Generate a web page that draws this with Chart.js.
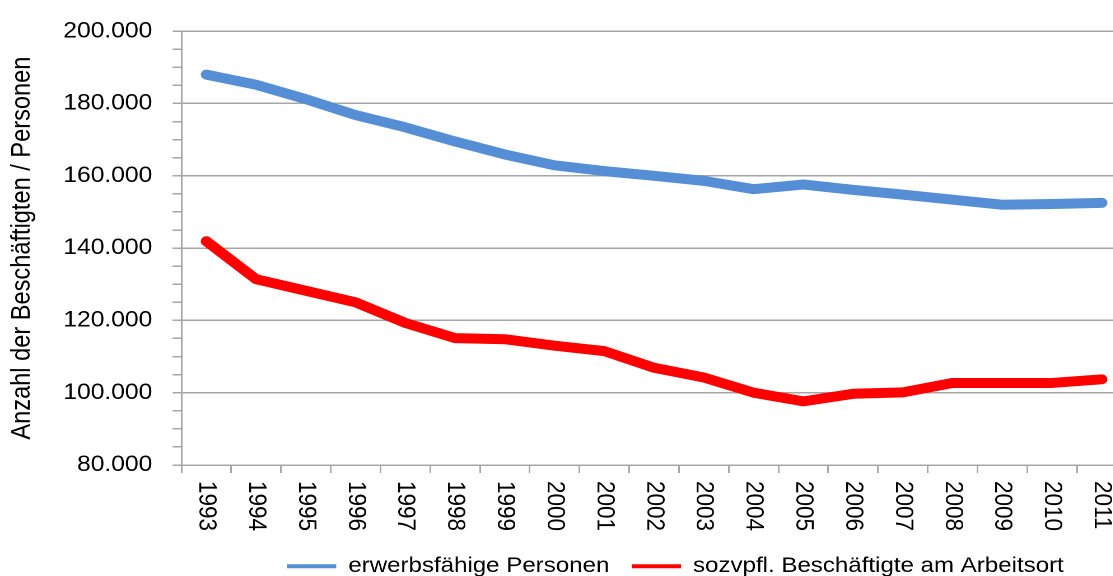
<!DOCTYPE html>
<html><head><meta charset="utf-8">
<script src="https://cdn.jsdelivr.net/npm/chart.js@4.4.1/dist/chart.umd.min.js"></script>
<style>
html,body{margin:0;padding:0;overflow:hidden;background:#fff;width:1113px;height:576px;}
#wrap{position:absolute;left:0;top:0;transform:scaleX(1.12);transform-origin:0 0;}
canvas{display:block;}
</style></head><body>
<div id="wrap"><canvas id="c" width="1006" height="587"></canvas></div>
<script>
const years = ['1993','1994','1995','1996','1997','1998','1999','2000','2001','2002','2003','2004','2005','2006','2007','2008','2009','2010','2011'];
const erwerbsfaehige = [188000,185200,181200,176800,173400,169500,165900,162900,161300,160000,158600,156300,157600,156100,154800,153400,152000,152200,152500];
const sozvpfl = [141900,131400,128200,125000,119300,115100,114800,113000,111500,106900,104200,100000,97600,99700,100100,102700,102700,102700,103700];
const seriesNames = ['erwerbsfähige Personen','sozvpfl. Beschäftigte am Arbeitsort'];
const axisTitle = 'Anzahl der Beschäftigten / Personen';
const yMin = 80000, yMax = 200000, yMajor = 20000, yMinor = 5000;

const FONT = "'Liberation Sans', Arial, sans-serif";
Chart.defaults.font.family = FONT;
Chart.defaults.color = '#000';
const GRID = '#a6a6a6';

function fmt(v){ return String(Math.round(v/1000)) + '.000'; }

const xLabelPlugin = {
  id: 'xLabels',
  afterDraw(chart) {
    const s = chart.scales.x, ctx = chart.ctx;
    ctx.save();
    ctx.font = '22.5px ' + FONT;
    ctx.fillStyle = '#000';
    ctx.textAlign = 'left';
    ctx.textBaseline = 'middle';
    years.forEach((lab, i) => {
      ctx.save();
      ctx.translate(s.getPixelForValue(i), s.top + 16);
      ctx.rotate(Math.PI / 2);
      ctx.fillText(lab, 0, 0);
      ctx.restore();
    });
    ctx.restore();
  }
};
const legendShift = {
  id: 'legendShift',
  afterLayout(chart) { const l = chart.legend; if (l) { l.left += 100; l.right += 100; } }
};

new Chart(document.getElementById('c'), {
  type: 'line',
  data: {
    labels: years,
    datasets: [
      { label: seriesNames[0], data: erwerbsfaehige, borderColor: '#558ed5', backgroundColor: '#558ed5',
        borderWidth: 10, pointRadius: 0, pointHoverRadius: 0, tension: 0, fill: false,
        borderCapStyle: 'round', borderJoinStyle: 'round' },
      { label: seriesNames[1], data: sozvpfl, borderColor: '#ff0000', backgroundColor: '#ff0000',
        borderWidth: 10, pointRadius: 0, pointHoverRadius: 0, tension: 0, fill: false,
        borderCapStyle: 'round', borderJoinStyle: 'round' }
    ]
  },
  options: {
    responsive: false,
    animation: false,
    devicePixelRatio: 2,
    layout: { padding: { top: 29, left: 0, right: 0, bottom: 0 } },
    plugins: {
      tooltip: { enabled: false },
      legend: {
        position: 'bottom',
        labels: {
          boxWidth: 44, boxHeight: 4, padding: 20, color: '#000',
          font: { size: 21.5 },
          generateLabels: (chart) => Chart.defaults.plugins.legend.labels.generateLabels(chart)
            .map(l => Object.assign(l, { lineWidth: 0 }))
        }
      }
    },
    scales: {
      x: {
        type: 'category', offset: true,
        grid: { offset: true, drawOnChartArea: false, drawTicks: true, tickLength: 8, color: GRID, lineWidth: 1.5 },
        border: { color: GRID, width: 1.5 },
        ticks: { display: false },
        afterFit(s) { s.height = 70.5; }
      },
      y: {
        min: yMin, max: yMax,
        ticks: {
          stepSize: yMinor, autoSkip: false, padding: 18, color: '#000', font: { size: 22 },
          callback: (v) => (v % yMajor === 0 ? fmt(v) : '')
        },
        grid: {
          color: (c) => (c.tick && c.tick.value % yMajor === 0 ? GRID : 'rgba(0,0,0,0)'),
          tickColor: GRID, tickLength: 8, lineWidth: 1.5
        },
        border: { color: GRID, width: 1.5 },
        title: { display: true, text: axisTitle, color: '#000', font: { size: 23.6 }, padding: { top: 6, bottom: 0 } },
        afterFit(s) { s.width = 162; }
      }
    }
  },
  plugins: [xLabelPlugin, legendShift]
});
</script>
</body></html>
